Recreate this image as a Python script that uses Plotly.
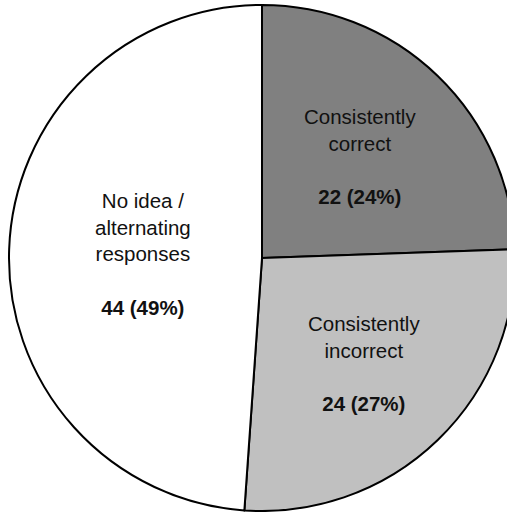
import math
import plotly.graph_objects as go

# Response categories and their counts
categories = ["Consistently<br>correct", "Consistently<br>incorrect", "No idea /<br>alternating<br>responses"]
counts = [22, 24, 44]
colors = ["#808080", "#c0c0c0", "#ffffff"]
# how far out along each slice's middle the label sits (fraction of radius)
label_radius = [0.56, 0.58, 0.47]

total = sum(counts)

W, H = 524, 512
ml, mr, mt, mb = 9, 9, 5, 1

fig = go.Figure(
    go.Pie(
        labels=categories,
        values=counts,
        sort=False,
        direction="clockwise",
        rotation=0,
        marker=dict(colors=colors, line=dict(color="#000000", width=2)),
        textinfo="none",
        hoverinfo="label+value+percent",
        showlegend=False,
    )
)

# labels placed at the middle angle of each slice
annotations = []
start = 0.0
for cat, n, f in zip(categories, counts, label_radius):
    mid = (start + n / 2) / total * 2 * math.pi
    start += n
    pct = round(100 * n / total)
    annotations.append(
        dict(
            x=0.5 + 0.5 * f * math.sin(mid),
            y=0.5 + 0.5 * f * math.cos(mid),
            xref="paper",
            yref="paper",
            xanchor="center",
            yanchor="middle",
            showarrow=False,
            align="center",
            text=f"{cat}<br><br><b>{n} ({pct}%)</b>",
            font=dict(family="Liberation Sans, Arial, sans-serif", size=20.5, color="#111111"),
        )
    )

fig.update_layout(
    width=W,
    height=H,
    margin=dict(l=ml, r=mr, t=mt, b=mb),
    paper_bgcolor="#ffffff",
    plot_bgcolor="#ffffff",
    annotations=annotations,
)

fig.write_html(
    "out.html",
    post_script="document.body.style.margin='0';document.body.style.overflow='hidden';document.documentElement.style.overflow='hidden';",
)
